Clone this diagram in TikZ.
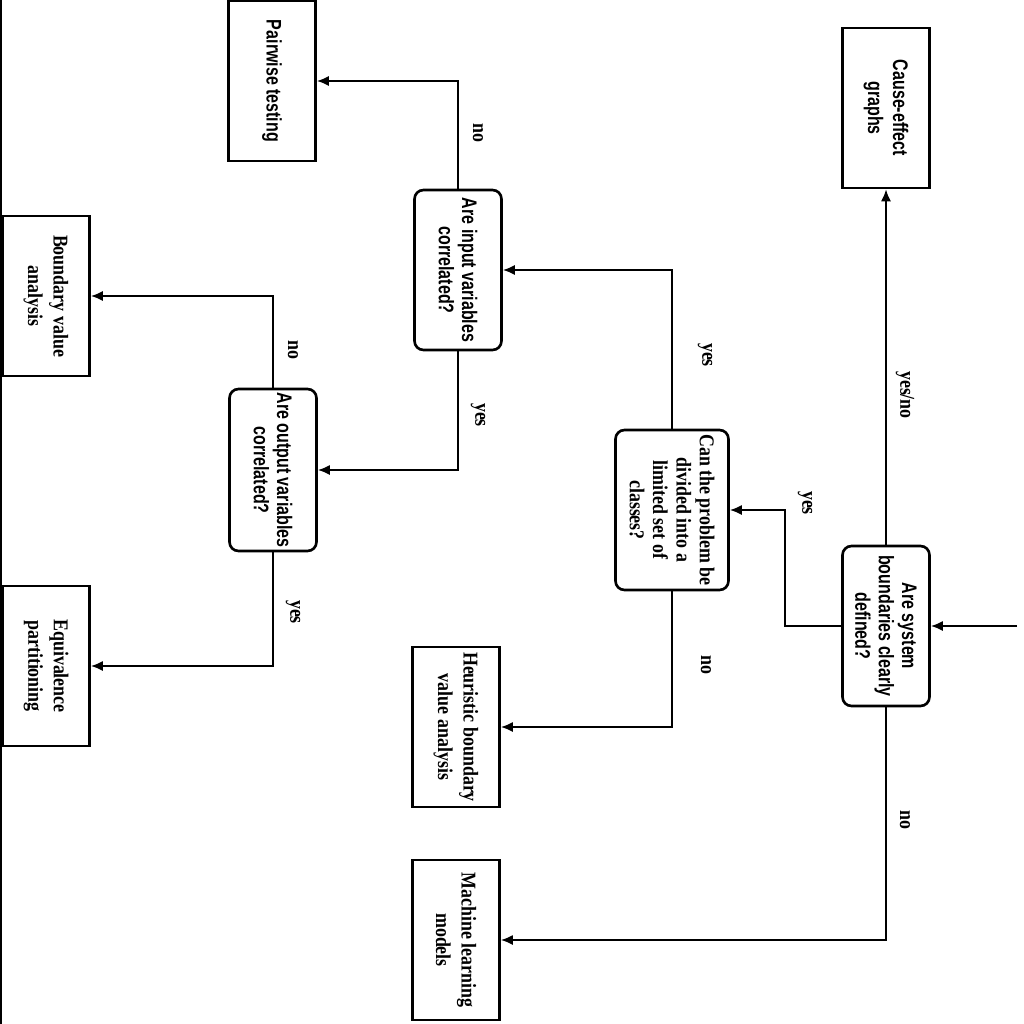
\documentclass[tikz,border=0pt]{standalone}
\usepackage{fontspec}
\setmainfont{Liberation Serif}
\newfontfamily\flowserif[FakeStretch=0.85]{Liberation Serif}
\newfontfamily\flowsans[FakeStretch=0.76]{Liberation Sans}
\usepackage{tikz}
\usetikzlibrary{arrows.meta}

\begin{document}
\begin{tikzpicture}[
        x=0.02cm, y=-0.02cm,
        seriftext/.style={font=\flowserif\bfseries\fontsize{12}{13.3}\selectfont},
        sanstext/.style={font=\flowsans\bfseries\fontsize{12}{13.3}\selectfont},
        widetext/.style={font=\flowserif\bfseries\fontsize{12}{14.5}\selectfont},
        decision/.style={rectangle, rounded corners=0.18cm, draw, line width=1.5pt, minimum width=3.2cm, minimum height=1.74cm, inner sep=2pt, align=center, rotate=-90, sanstext},
        outcome/.style={rectangle, draw, line width=1.5pt, minimum width=3.2cm, minimum height=1.74cm, inner sep=2pt, align=center, rotate=-90, widetext},
        lbl/.style={rotate=-90, inner sep=1pt, seriftext},
        arrow/.style={-{Latex[length=2.4mm,width=2mm]}, line width=1pt}
    ]
        \useasboundingbox (0,0) rectangle (1024,1024);
        \draw[line width=1.2pt] (1,0) -- (1,1024);

        % questions
        \node[decision] (d1) at (886,626) {Are system\\boundaries clearly\\defined?};
        \node[decision, seriftext, minimum height=2.26cm] (d2) at (672,510) {Can the problem be\\divided into a\\limited set of\\classes?};
        \node[decision] (d3) at (458,270) {Are input variables\\correlated?};
        \node[decision] (d4) at (273,470) {Are output variables\\correlated?};

        % techniques
        \node[outcome, sanstext] (cause) at (886,108) {Cause-effect\\[1pt]graphs};
        \node[outcome, sanstext] (pair) at (272,81) {Pairwise testing};
        \node[outcome] (bva) at (46,296) {Boundary value\\analysis};
        \node[outcome] (ep) at (46,666) {Equivalence\\partitioning};
        \node[outcome] (heur) at (456,727) {Heuristic boundary\\value analysis};
        \node[outcome] (ml) at (456,940) {Machine learning\\models};

        \coordinate (start) at (1017,626);
        \draw[arrow] (start) -- (d1.north);
        \draw[arrow] (d1.west) -- (cause.east);
        \draw[arrow] (d1.south) -- ++(-56,0) |- (d2.north);
        \draw[arrow] (d1.east) |- (ml.north);
        \draw[arrow] (d2.west) |- (d3.north);
        \draw[arrow] (d2.east) |- (heur.north);
        \draw[arrow] (d3.west) |- (pair.north);
        \draw[arrow] (d3.east) |- (d4.north);
        \draw[arrow] (d4.west) |- (bva.north);
        \draw[arrow] (d4.east) |- (ep.north);

        % answers
        \node[lbl] (yesno1) at (905,395) {yes/no};
        \node[lbl] (yes1) at (805,503) {yes};
        \node[lbl] (no1) at (905,820) {no};
        \node[lbl] (yes2) at (705,355) {yes};
        \node[lbl] (no2) at (706,665) {no};
        \node[lbl] (no3) at (478,133) {no};
        \node[lbl] (yes3) at (478,415) {yes};
        \node[lbl] (no4) at (293,350) {no};
        \node[lbl] (yes4) at (293,612) {yes};
    \end{tikzpicture}
\end{document}
